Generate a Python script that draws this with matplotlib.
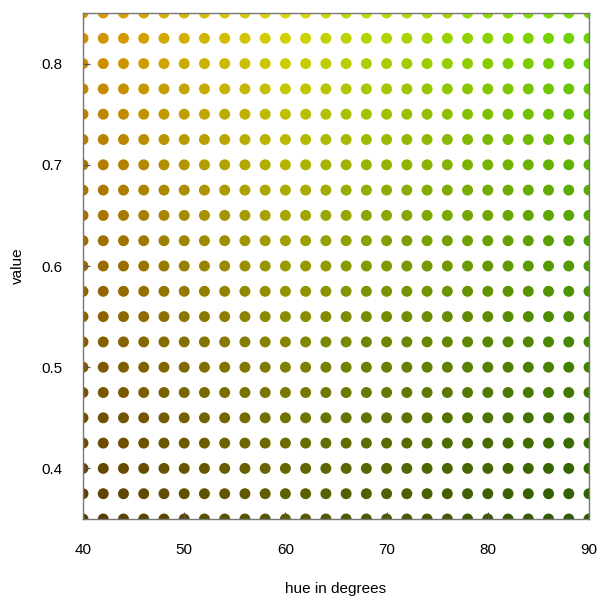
import numpy as np
import matplotlib.pyplot as plt
from matplotlib.colors import hsv_to_rgb

plt.rcParams['font.family'] = ['Liberation Sans', 'DejaVu Sans']

# grid of hues (degrees) and values, full saturation
hues = [40, 42, 44, 46, 48, 50, 52, 54, 56, 58, 60, 62, 64, 66, 68,
        70, 72, 74, 76, 78, 80, 82, 84, 86, 88, 90]
values = [0.350, 0.375, 0.400, 0.425, 0.450, 0.475, 0.500, 0.525, 0.550,
          0.575, 0.600, 0.625, 0.650, 0.675, 0.700, 0.725, 0.750, 0.775,
          0.800, 0.825, 0.850]
saturation = 1.0

H, V = np.meshgrid(hues, values)
hsv = np.stack([H.ravel() / 360.0,
                np.full(H.size, saturation),
                V.ravel()], axis=1)
colors = hsv_to_rgb(hsv)

fig = plt.figure(figsize=(5.99, 5.99), dpi=100)
ax = fig.add_axes([83 / 599, 80 / 599, 506 / 599, 506 / 599])

ax.scatter(H.ravel(), V.ravel(), c=colors, s=62, linewidths=0)

ax.set_xlim(40, 90)
ax.set_ylim(0.35, 0.85)
ax.set_xticks([40, 50, 60, 70, 80, 90])
ax.set_yticks([0.4, 0.5, 0.6, 0.7, 0.8])
ax.tick_params(direction='in', length=5, width=0.8, color='#555555',
               labelsize=11)
ax.tick_params(axis='x', pad=17)
ax.tick_params(axis='y', pad=14.5)
for s in ax.spines.values():
    s.set_color('#777777')
    s.set_linewidth(1.0)

ax.set_xlabel('hue in degrees', fontsize=11, labelpad=18)
ax.set_ylabel('value', fontsize=11, labelpad=12)

fig.savefig('out.png', dpi=100)
